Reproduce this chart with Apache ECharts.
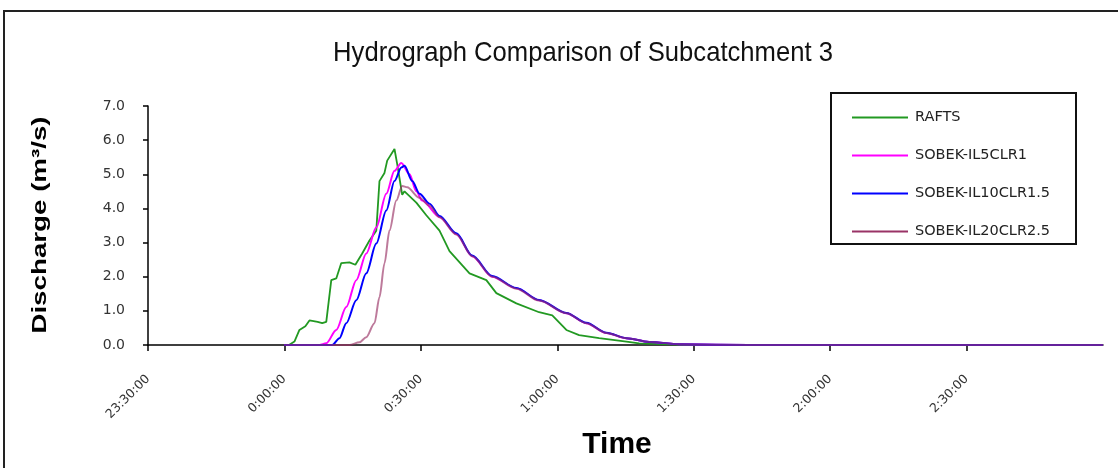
<!DOCTYPE html>
<html>
<head>
<meta charset="utf-8">
<script src="https://cdn.jsdelivr.net/npm/echarts@6/dist/echarts.min.js"></script>
<style>
html,body{margin:0;padding:0;background:#fff;}
#frame{position:absolute;left:3px;top:10px;width:1200px;height:600px;border-left:2px solid #222;border-top:2px solid #222;}
#chart{position:absolute;left:0;top:0;width:1118px;height:468px;}
</style>
</head>
<body>
<div id="frame"></div>
<div id="chart"></div>
<script>
// minutes relative to 0:00:00
const xTicks = [-30, 0, 30, 60, 90, 120, 150, 180];
const tickLabels = ['23:30:00', '0:00:00', '0:30:00', '1:00:00', '1:30:00', '2:00:00', '2:30:00', ''];
const yTicks = [0, 1, 2, 3, 4, 5, 6, 7];

const titleText = 'Hydrograph Comparison of Subcatchment 3';
const yName = 'Discharge (m³/s)';
const xName = 'Time';
const seriesNames = ['RAFTS', 'SOBEK-IL5CLR1', 'SOBEK-IL10CLR1.5', 'SOBEK-IL20CLR2.5'];

const raftsTime = [1.0, 2.2, 3.3, 4.6, 5.5, 7.3, 8.3, 9.2, 10.3, 11.4, 12.5, 14.3, 15.6, 17.1, 18.7, 20.2, 20.9, 22.0, 22.6, 24.2, 24.8, 25.9, 26.4, 29.0, 31.2, 34.1, 36.3, 40.7, 44.4, 46.6, 51.0, 56.0, 58.9, 62.0, 64.8, 69.2, 75.2, 78.0, 86.8, 95, 180];
const raftsFlow = [0.0, 0.1, 0.44, 0.55, 0.72, 0.68, 0.64, 0.68, 1.9, 1.95, 2.4, 2.42, 2.35, 2.68, 3.06, 3.35, 4.8, 5.04, 5.4, 5.74, 5.3, 4.4, 4.5, 4.17, 3.8, 3.35, 2.75, 2.1, 1.9, 1.52, 1.22, 0.96, 0.87, 0.44, 0.29, 0.2, 0.1, 0.05, 0.01, 0.0, 0.0];

const il5Time = [0, 7.7, 9.2, 11.4, 13.6, 15.8, 18.0, 20.2, 22.4, 24.2, 25.7, 27.5, 29.0, 30.3, 34.1, 37.8, 41.3, 45.7, 51.0, 56.0, 62.0, 66.4, 70.8, 75.2, 80.2, 87.5, 102, 180];
const il5Flow = [0.0, 0.0, 0.05, 0.44, 1.11, 1.9, 2.68, 3.44, 4.43, 5.1, 5.33, 5.0, 4.5, 4.23, 3.75, 3.25, 2.6, 2.0, 1.66, 1.31, 0.93, 0.64, 0.35, 0.2, 0.09, 0.02, 0.0, 0.0];

const il10Time = [0, 10.5, 12.1, 13.6, 15.8, 18.0, 20.2, 22.4, 24.2, 25.7, 26.4, 28.1, 29.7, 31.9, 34.1, 37.8, 41.3, 45.7, 51.0, 56.0, 62.0, 66.4, 70.8, 75.2, 80.2, 87.5, 102, 180];
const il10Flow = [0.0, 0.0, 0.2, 0.64, 1.31, 2.1, 2.97, 3.94, 4.8, 5.2, 5.25, 4.8, 4.43, 4.14, 3.78, 3.27, 2.62, 2.02, 1.67, 1.32, 0.94, 0.65, 0.36, 0.2, 0.09, 0.02, 0.0, 0.0];

const il20Time = [0, 14.3, 16.5, 18.0, 19.8, 20.9, 22.0, 23.1, 24.6, 25.9, 27.0, 29.7, 31.9, 34.1, 37.8, 41.3, 45.7, 51.0, 56.0, 62.0, 66.4, 70.8, 75.2, 80.2, 87.5, 102, 180];
const il20Flow = [0.0, 0.0, 0.08, 0.23, 0.64, 1.4, 2.39, 3.35, 4.23, 4.66, 4.62, 4.31, 4.08, 3.74, 3.24, 2.6, 2.0, 1.65, 1.3, 0.93, 0.64, 0.35, 0.2, 0.09, 0.02, 0.0, 0.0];

function zip(t, q) { return t.map((v, i) => [v, q[i]]); }

const chart = echarts.init(document.getElementById('chart'));
const sans = '"Liberation Sans", Arial, sans-serif';
const dv = '"DejaVu Sans", sans-serif';

chart.setOption({
  backgroundColor: 'transparent',
  animation: false,
  graphic: [
    { type: 'text', x: 583, y: 53, scaleX: 0.915,
      style: { text: titleText, fontFamily: sans, fontSize: 28, fill: '#111',
        align: 'center', verticalAlign: 'middle', textAlign: 'center', textVerticalAlign: 'middle' } },
    { type: 'text', x: 40, y: 225, rotation: Math.PI / 2, scaleX: 1.32,
      style: { text: yName, fontFamily: sans, fontSize: 21, fontWeight: 'bold', fill: '#000',
        align: 'center', verticalAlign: 'middle', textAlign: 'center', textVerticalAlign: 'middle' } },
    { type: 'text', x: 617, y: 445,
      style: { text: xName, fontFamily: sans, fontSize: 30, fontWeight: 'bold', fill: '#000',
        align: 'center', verticalAlign: 'middle', textAlign: 'center', textVerticalAlign: 'middle' } },
    { type: 'rect', left: 830, top: 92, shape: { width: 245, height: 151 },
      style: { fill: '#fff', stroke: '#111', lineWidth: 2 }, z: 0 }
  ],
  legend: {
    orient: 'vertical', left: 847, top: 105, itemWidth: 56, itemHeight: 14, itemGap: 23,
    icon: 'path://M0,0 L56,0 L56,2 L0,2 Z',
    data: seriesNames,
    textStyle: { fontFamily: dv, fontSize: 14.5, lineHeight: 14, color: '#222', padding: [0, 0, 0, 2] },
    z: 5
  },
  grid: { left: 148, top: 106, right: 15, bottom: 123, containLabel: false, outerBoundsMode: 'none' },
  xAxis: {
    type: 'value', min: xTicks[0], max: xTicks[xTicks.length - 1], interval: 30,
    axisLine: { lineStyle: { color: '#000', width: 1.5 }, onZero: false },
    axisTick: { length: 6, lineStyle: { color: '#000', width: 1.5 } },
    splitLine: { show: false },
    axisLabel: {
      rotate: 45, margin: 32, fontFamily: dv, fontSize: 12.5, color: '#333',
      showMaxLabel: false,
      formatter: v => tickLabels[xTicks.indexOf(v)] || ''
    }
  },
  yAxis: {
    type: 'value', min: yTicks[0], max: yTicks[yTicks.length - 1], interval: 1,
    axisLine: { show: true, onZero: false, lineStyle: { color: '#000', width: 1.5 } },
    axisTick: { show: true, length: 5, lineStyle: { color: '#000', width: 1.5 } },
    splitLine: { show: false },
    axisLabel: { margin: 23, fontFamily: dv, fontSize: 14, color: '#333', formatter: v => v.toFixed(1) }
  },
  series: [
    { name: seriesNames[0], type: 'line', data: zip(raftsTime, raftsFlow), symbol: 'none',
      lineStyle: { color: '#229922', width: 1.8 }, itemStyle: { color: '#229922' }, z: 2 },
    { name: seriesNames[1], type: 'line', data: zip(il5Time, il5Flow), symbol: 'none', smooth: 0.3, smoothMonotone: 'x',
      lineStyle: { color: '#ff00ff', width: 2 }, itemStyle: { color: '#ff00ff' }, z: 3 },
    { name: seriesNames[2], type: 'line', data: zip(il10Time, il10Flow), symbol: 'none', smooth: 0.3, smoothMonotone: 'x',
      lineStyle: { color: '#0000ff', width: 2 }, itemStyle: { color: '#0000ff' }, z: 4 },
    { name: seriesNames[3], type: 'line', data: zip(il20Time, il20Flow), symbol: 'none', smooth: 0.3, smoothMonotone: 'x',
      lineStyle: { color: '#993366', width: 2, opacity: 0.65 }, itemStyle: { color: '#993366' }, z: 5 }
  ]
});
</script>
</body>
</html>
